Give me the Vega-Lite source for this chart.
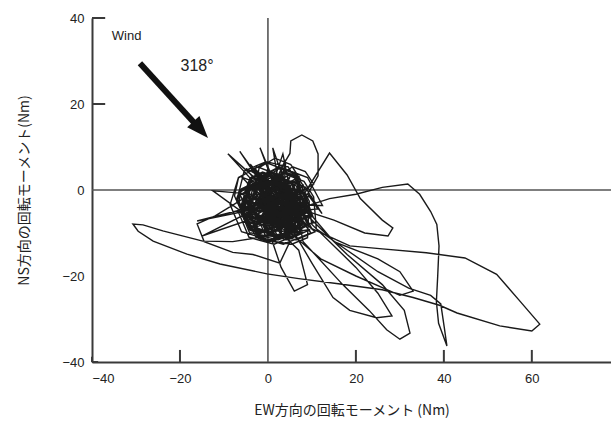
{
"$schema":"https://vega.github.io/schema/vega-lite/v6.json",
"width":519,"height":344,
"autosize":{"type":"none"},
"padding":{"left":92,"top":18,"right":0,"bottom":59},
"background":"white",
"config":{"view":{"stroke":null},"font":"Liberation Sans",
 "axis":{"grid":false,"ticks":false,"domainColor":"#3a3a3a","domainWidth":2,"labelFont":"Liberation Sans","labelFontSize":13,"labelColor":"#222","titleFont":"Noto Sans CJK JP","titleFontSize":14,"titleFontWeight":"normal","titleColor":"#222"}},
"datasets":{
"traj":[
{"x":2,"y":-3},{"x":-4,"y":2},{"x":6,"y":-8},{"x":8,"y":1},{"x":-3,"y":-7},{"x":0,"y":5},{"x":5,"y":-10},{"x":-5,"y":-4},{"x":7,"y":3},{"x":1,"y":-9},{"x":-2,"y":4},{"x":9,"y":-5},{"x":-6,"y":-1},{"x":4,"y":6},{"x":3,"y":-11},
{"x":8,"y":-3},{"x":6.5,"y":1.8},{"x":2.4,"y":2.6},{"x":-2.6,"y":1.5},{"x":-3.6,"y":-3.4},{"x":-2,"y":-7.9},{"x":2.5,"y":-8.6},{"x":6.9,"y":-6.6},
{"x":5.4,"y":-1.6},{"x":3.2,"y":1.9},{"x":-0.4,"y":3.6},{"x":-3.8,"y":1.2},{"x":-4.6,"y":-2.5},{"x":-3.2,"y":-5.8},{"x":0.6,"y":-6.6},{"x":3.9,"y":-5.2},
{"x":11.3,"y":-4.4},{"x":8.6,"y":0.6},{"x":3.5,"y":2.6},{"x":-1.4,"y":0.4},{"x":-2.6,"y":-5.5},{"x":-0.7,"y":-10.4},{"x":4.6,"y":-11.6},{"x":9.6,"y":-9.2},
{"x":-8,"y":-12},
{"x":-14.8,"y":-11.9},{"x":-23.9,"y":-9.5},{"x":-28.4,"y":-8.1},{"x":-30.7,"y":-7.9},{"x":-29.5,"y":-9.6},{"x":-26.1,"y":-11.9},{"x":-18.4,"y":-14.9},{"x":-10.9,"y":-17.2},{"x":-0.2,"y":-19.5},{"x":7,"y":-20.6},{"x":16,"y":-21.8},{"x":26,"y":-23.2},{"x":33,"y":-25},{"x":39,"y":-26.8},{"x":43,"y":-28.6},{"x":52.7,"y":-31.6},{"x":60,"y":-32.8},{"x":61.8,"y":-31.2},{"x":57,"y":-25.5},{"x":52,"y":-19.6},{"x":44.8,"y":-15.8},{"x":36,"y":-14.6},{"x":26,"y":-13.7},{"x":18.6,"y":-13},{"x":10,"y":-9},
{"x":5.3,"y":-0.6},{"x":3.6,"y":2.3},{"x":0.6,"y":3.4},{"x":-2.2,"y":1.5},{"x":-2.7,"y":-1.4},{"x":-1.5,"y":-4.2},{"x":1.4,"y":-4.7},{"x":4.1,"y":-3.3},
{"x":12.4,"y":-3.6},{"x":9,"y":2.9},{"x":2.6,"y":5.4},{"x":-3.9,"y":2},{"x":-5.6,"y":-4.5},{"x":-2.8,"y":-10.8},{"x":3.5,"y":-12.6},{"x":9.8,"y":-10},
{"x":4.4,"y":-2.6},{"x":2.2,"y":0.9},{"x":-1.4,"y":2.3},{"x":-5,"y":0.1},{"x":-5.6,"y":-3.4},{"x":-4.1,"y":-7},{"x":-0.6,"y":-7.6},{"x":2.8,"y":-6.1},
{"x":8,"y":-4},{"x":14,"y":-2},{"x":20,"y":-1},{"x":26,"y":0.6},{"x":31.8,"y":1.4},{"x":34.5,"y":-1},{"x":37,"y":-5},{"x":38.4,"y":-8},{"x":38.9,"y":-13},{"x":38.6,"y":-20},{"x":38.3,"y":-26},{"x":38.8,"y":-31},{"x":40.7,"y":-36.3},{"x":40.1,"y":-32},{"x":39.3,"y":-26.5},{"x":37,"y":-24.5},{"x":32,"y":-22.8},{"x":25,"y":-19},{"x":18,"y":-14},{"x":11,"y":-9},
{"x":10.4,"y":-1.6},{"x":8.2,"y":2},{"x":4.6,"y":3.4},{"x":1.1,"y":1.2},{"x":0.4,"y":-2.5},{"x":1.8,"y":-6},{"x":5.5,"y":-6.6},{"x":9.1,"y":-5},
{"x":8.4,"y":-5.6},{"x":5.9,"y":-1.4},{"x":1.6,"y":0.4},{"x":-2.6,"y":-2},{"x":-3.6,"y":-6.4},{"x":-1.9,"y":-10.6},{"x":2.4,"y":-11.6},{"x":6.6,"y":-9.9},
{"x":7.4,"y":0.5},{"x":4.6,"y":5.4},{"x":-0.4,"y":6.6},{"x":-5.4,"y":4.4},{"x":-6.6,"y":-0.5},{"x":-4.4,"y":-5.4},{"x":0.5,"y":-6.6},{"x":5.4,"y":-4.5},
{"x":3,"y":5},{"x":5,"y":8.5},{"x":5.2,"y":11.4},{"x":7.7,"y":12.8},{"x":10.2,"y":11.4},{"x":11.4,"y":8.4},{"x":11.4,"y":3.3},{"x":9,"y":-1},
{"x":12.3,"y":-5.5},{"x":9.8,"y":-1.4},{"x":5.5,"y":0.4},{"x":1.4,"y":-2.1},{"x":0.4,"y":-6.4},{"x":2.1,"y":-10.7},{"x":6.5,"y":-11.6},{"x":10.7,"y":-9.7},
{"x":-9.1,"y":8.4},{"x":2,"y":-4},{"x":-6.4,"y":9},{"x":4,"y":-6},{"x":-1.8,"y":9.8},{"x":3,"y":-2},{"x":1.1,"y":9.8},{"x":6,"y":-5},{"x":3.4,"y":8.4},{"x":-2,"y":-8},{"x":-12.5,"y":-0.2},{"x":9,"y":-2},{"x":-16.1,"y":-7.2},{"x":0,"y":-3},{"x":-15,"y":-10.7},{"x":7,"y":-3},{"x":14,"y":8.6},{"x":18,"y":3.5},{"x":21,"y":-2},{"x":26,"y":-7},{"x":28.4,"y":-8.8},{"x":27.3,"y":-10.7},{"x":22,"y":-10},{"x":15,"y":-7},{"x":6,"y":-4},
{"x":4.4,"y":-0.6},{"x":1.9,"y":3.7},{"x":-2.4,"y":5.4},{"x":-6.7,"y":2.8},{"x":-7.6,"y":-1.4},{"x":-5.7,"y":-5.7},{"x":-1.6,"y":-6.6},{"x":2.6,"y":-5.6},
{"x":8.4,"y":0.4},{"x":6.2,"y":3.9},{"x":2.6,"y":5.4},{"x":-0.9,"y":3.2},{"x":-1.6,"y":-0.4},{"x":-0.2,"y":-3.9},{"x":3.4,"y":-4.6},{"x":6.8,"y":-3.2},
{"x":6,"y":-10},{"x":10,"y":-17},{"x":14.8,"y":-25},{"x":18.6,"y":-28},{"x":24.7,"y":-29.7},{"x":28.2,"y":-29.3},{"x":25,"y":-24},{"x":20,"y":-18},{"x":10,"y":-8},
{"x":9.4,"y":-4.6},{"x":6.3,"y":1.1},{"x":0.6,"y":3.4},{"x":-5,"y":0.2},{"x":-6.6,"y":-5.4},{"x":-4.3,"y":-11},{"x":1.4,"y":-12.6},{"x":7.2,"y":-10.1},
{"x":7.4,"y":-2.6},{"x":5.7,"y":-0.5},{"x":3.6,"y":0.4},{"x":1.5,"y":-1.2},{"x":1.4,"y":-3.4},{"x":2.2,"y":-5.5},{"x":4.4,"y":-5.6},{"x":6.6,"y":-4.8},
{"x":8,"y":-12},{"x":17,"y":-22},{"x":23,"y":-28},{"x":27,"y":-32.5},{"x":30,"y":-34.7},{"x":32.3,"y":-33.3},{"x":31,"y":-28},{"x":26,"y":-22},{"x":18,"y":-15},{"x":9,"y":-6},
{"x":4.4,"y":-5.6},{"x":2.2,"y":-2},{"x":-1.4,"y":-0.6},{"x":-4.9,"y":-2.9},{"x":-5.6,"y":-6.4},{"x":-4.2,"y":-9.9},{"x":-0.6,"y":-10.6},{"x":2.9,"y":-9.2},
{"x":7.4,"y":2.4},{"x":5.2,"y":5.9},{"x":1.6,"y":7.4},{"x":-2,"y":5.2},{"x":-2.6,"y":1.6},{"x":-1.1,"y":-2},{"x":2.4,"y":-2.6},{"x":5.9,"y":-1.1},
{"x":15,"y":-12},{"x":25,"y":-16},{"x":30,"y":-19},{"x":33,"y":-23.5},{"x":30,"y":-24.5},{"x":20,"y":-20},{"x":12,"y":-16},{"x":4,"y":-9},
{"x":10.4,"y":-7.6},{"x":8.1,"y":-4},{"x":4.6,"y":-2.6},{"x":1.1,"y":-4.9},{"x":0.4,"y":-8.4},{"x":1.8,"y":-12},{"x":5.4,"y":-12.6},{"x":9,"y":-11.1},
{"x":9.4,"y":-2.6},{"x":6,"y":3.8},{"x":-0.4,"y":6.4},{"x":-6.7,"y":2.9},{"x":-8.6,"y":-3.4},{"x":-6,"y":-9.7},{"x":0.4,"y":-11.6},{"x":6.7,"y":-9},
{"x":1,"y":-12},{"x":3,"y":-18},{"x":6,"y":-23.5},{"x":9,"y":-22},{"x":7,"y":-14},{"x":2,"y":-9},
{"x":5.4,"y":-1.6},{"x":3.7,"y":0.5},{"x":1.6,"y":1.4},{"x":-0.5,"y":-0.3},{"x":-0.6,"y":-2.4},{"x":0.3,"y":-4.5},{"x":2.4,"y":-4.6},{"x":4.6,"y":-3.7},
{"x":7.4,"y":-5.6},{"x":5.4,"y":-2.8},{"x":2.6,"y":-1.6},{"x":-0.2,"y":-3.5},{"x":-0.6,"y":-6.4},{"x":0.5,"y":-9.2},{"x":3.4,"y":-9.6},{"x":6.3,"y":-8.5},
{"x":-4,"y":-1},{"x":-12,"y":-6},{"x":-16.1,"y":-7.9},{"x":-14.5,"y":-12},{"x":-8,"y":-14.5},{"x":-3.4,"y":-15},{"x":2.7,"y":-17},{"x":5,"y":-12},
{"x":1.4,"y":-2.6},{"x":-0.5,"y":0.2},{"x":-3.4,"y":1.4},{"x":-6.3,"y":-0.5},{"x":-6.6,"y":-3.4},{"x":-5.4,"y":-6.3},{"x":-2.6,"y":-6.6},{"x":0.2,"y":-5.4},
{"x":10.4,"y":1.4},{"x":8.5,"y":4.3},{"x":5.6,"y":5.4},{"x":2.8,"y":3.4},{"x":2.4,"y":0.6},{"x":3.5,"y":-2.2},{"x":6.4,"y":-2.6},{"x":9.2,"y":-1.5},
{"x":5.4,"y":-7.6},{"x":3.4,"y":-4.7},{"x":0.6,"y":-3.6},{"x":-2.3,"y":-5.6},{"x":-2.6,"y":-8.4},{"x":-1.4,"y":-11.3},{"x":1.4,"y":-11.6},{"x":4.3,"y":-10.4},
{"x":9.4,"y":-3.6},{"x":6.6,"y":1.4},{"x":1.6,"y":3.4},{"x":-3.4,"y":0.6},{"x":-4.6,"y":-4.4},{"x":-2.6,"y":-9.4},{"x":2.4,"y":-10.6},{"x":7.4,"y":-8.6},
{"x":-4,"y":6},{"x":3,"y":-5},{"x":0,"y":-1},{"x":6,"y":-9},{"x":-5,"y":5},{"x":4,"y":0},{"x":8,"y":-10},{"x":-5,"y":2},{"x":2,"y":-7},{"x":7,"y":0},{"x":-2,"y":-5},{"x":1,"y":3},{"x":5,"y":-6},{"x":-4,"y":-9},{"x":6,"y":2},{"x":0,"y":0},{"x":3,"y":-10},{"x":-3,"y":5},{"x":8,"y":-7},{"x":-1,"y":-4},{"x":4,"y":7},{"x":2,"y":-5},{"x":-6,"y":3},{"x":7,"y":-2},{"x":1,"y":-8},{"x":-2,"y":-3},{"x":5,"y":3},{"x":0,"y":-7},{"x":3,"y":1}
],
"core":[
{"x":1,"y":-2},{"x":0.2,"y":0.3},{"x":-2,"y":1.1},{"x":-4.3,"y":0},{"x":-5,"y":-2.2},{"x":-4.1,"y":-4.2},{"x":-1.8,"y":-5},{"x":0.3,"y":-4},
{"x":4,"y":-6.3},{"x":2.8,"y":-3},{"x":-0.3,"y":-2},{"x":-3,"y":-3.2},{"x":-4,"y":-6},{"x":-2.7,"y":-8.9},{"x":0.4,"y":-10},{"x":3,"y":-8.7},
{"x":6.5,"y":-0.8},{"x":5.4,"y":1.6},{"x":2.8,"y":2.5},{"x":0.5,"y":1.5},{"x":-0.5,"y":-1.2},{"x":0.6,"y":-3.6},{"x":3.3,"y":-4.5},{"x":5.7,"y":-3.4},
{"x":9,"y":-5.2},{"x":7.9,"y":-2},{"x":4.8,"y":-1},{"x":2.1,"y":-2.3},{"x":1,"y":-5.2},{"x":2.3,"y":-8},{"x":5.3,"y":-9},{"x":8,"y":-7.7},
{"x":6,"y":-3},{"x":4.4,"y":0.7},{"x":0.8,"y":2},{"x":-2.6,"y":0.5},{"x":-4,"y":-3.2},{"x":-2.4,"y":-6.6},{"x":1.2,"y":-8},{"x":4.6,"y":-6.4},
{"x":0,"y":-5},{"x":-0.8,"y":-2.8},{"x":-3.2,"y":-2},{"x":-5.3,"y":-3},{"x":-6,"y":-5.3},{"x":-5,"y":-7.2},{"x":-2.7,"y":-8},{"x":-0.7,"y":-7.1},
{"x":5,"y":-8},{"x":4.2,"y":-5.7},{"x":1.8,"y":-5},{"x":-0.2,"y":-6},{"x":-1,"y":-8.2},{"x":0,"y":-10.2},{"x":2.2,"y":-11},{"x":4.3,"y":-10},
{"x":7,"y":1},{"x":6.1,"y":3.3},{"x":3.8,"y":4},{"x":1.7,"y":3},{"x":1,"y":0.8},{"x":2,"y":-1.2},{"x":4.2,"y":-2},{"x":6.2,"y":-1.1},
{"x":3,"y":0},{"x":1.9,"y":2.9},{"x":-1.2,"y":4},{"x":-3.9,"y":2.7},{"x":-5,"y":-0.2},{"x":-3.7,"y":-2.9},{"x":-0.8,"y":-4},{"x":1.8,"y":-2.8},
{"x":9,"y":-3},{"x":8.2,"y":-0.8},{"x":5.8,"y":0},{"x":3.8,"y":-1},{"x":3,"y":-3.2},{"x":4,"y":-5.2},{"x":6.2,"y":-6},{"x":8.3,"y":-5},
{"x":6,"y":-4},{"x":4.1,"y":0.3},{"x":-0.2,"y":2},{"x":-4.3,"y":0.1},{"x":-6,"y":-4.2},{"x":-4,"y":-8.4},{"x":0.2,"y":-10},{"x":4.4,"y":-8.1},
{"x":4.5,"y":-5},{"x":3.8,"y":-3.2},{"x":1.8,"y":-2.5},{"x":0.2,"y":-3.3},{"x":-0.5,"y":-5.2},{"x":0.3,"y":-6.9},{"x":2.2,"y":-7.5},{"x":3.9,"y":-6.7},
{"x":-1,"y":-2},{"x":-1.9,"y":0.2},{"x":-4.2,"y":1},{"x":-6.2,"y":0},{"x":-7,"y":-2.2},{"x":-6,"y":-4.2},{"x":-3.8,"y":-5},{"x":-1.8,"y":-4},
{"x":7,"y":-7},{"x":5.9,"y":-4.1},{"x":2.8,"y":-3},{"x":0.1,"y":-4.3},{"x":-1,"y":-7.2},{"x":0.3,"y":-9.9},{"x":3.2,"y":-11},{"x":5.9,"y":-9.7},
{"x":4,"y":1},{"x":3.2,"y":3.2},{"x":0.8,"y":4},{"x":-1.2,"y":3},{"x":-2,"y":0.8},{"x":-1,"y":-1.2},{"x":1.2,"y":-2},{"x":3.2,"y":-1},
{"x":8,"y":-8},{"x":7.2,"y":-5.8},{"x":4.8,"y":-5},{"x":2.8,"y":-6},{"x":2,"y":-8.2},{"x":3,"y":-10.2},{"x":5.2,"y":-11},{"x":7.2,"y":-10},
{"x":1,"y":-7},{"x":0.2,"y":-4.8},{"x":-2.2,"y":-4},{"x":-4.2,"y":-5},{"x":-5,"y":-7.2},{"x":-4,"y":-9.2},{"x":-1.8,"y":-10},{"x":0.2,"y":-9},
{"x":10,"y":-6},{"x":9.2,"y":-3.8},{"x":6.8,"y":-3},{"x":4.8,"y":-4},{"x":4,"y":-6.2},{"x":5,"y":-8.2},{"x":7.2,"y":-9},{"x":9.2,"y":-8},
{"x":6,"y":-2},{"x":4.9,"y":0.9},{"x":1.8,"y":2},{"x":-0.9,"y":0.8},{"x":-2,"y":-2.2},{"x":-0.8,"y":-4.9},{"x":2.2,"y":-6},{"x":4.9,"y":-4.8},
{"x":3,"y":-9},{"x":2.2,"y":-6.8},{"x":-0.2,"y":-6},{"x":-2.2,"y":-7},{"x":-3,"y":-9.2},{"x":-2,"y":-11.2},{"x":0.2,"y":-12},{"x":2.2,"y":-11}
],
"vzero":[{"x":0,"y":-40,"y2":40}],
"hzero":[{"x":-40,"x2":78,"y":0}],
"xticks":[{"x":-40,"y":-40,"y2":-38.8},{"x":-20,"y":-40,"y2":-37.2},{"x":20,"y":-40,"y2":-37.2},{"x":40,"y":-40,"y2":-37.2},{"x":60,"y":-40,"y2":-37.2}],
"yticks":[{"x":-40,"x2":-38.6,"y":-40},{"x":-40,"x2":-37,"y":20},{"x":-40,"x2":-37,"y":40}],
"shaft":[{"x":-29.1,"y":29.5},{"x":-16.1,"y":14.9}],
"head":[{"x":-15.3,"y":14.0}],
"wind":[{"x":-35.5,"y":35.8,"label":"Wind"}],
"deg":[{"x":-16.1,"y":28.8,"label":"318°"}]
},
"encoding":{
 "x":{"field":"x","type":"quantitative","scale":{"domain":[-40,78],"nice":false,"zero":false},
  "axis":{"title":"EW方向の回転モーメント (Nm)","values":[-40,-20,0,20,40,60],"labelPadding":10,"titlePadding":18}},
 "y":{"field":"y","type":"quantitative","scale":{"domain":[-40,40],"nice":false,"zero":false},
  "axis":{"title":"NS方向の回転モーメント(Nm)","values":[-40,-20,0,20,40],"labelPadding":8,"titlePadding":30}}
},
"layer":[
 {"data":{"name":"vzero"},"mark":{"type":"rule","color":"#555","strokeWidth":1.6},"encoding":{"y2":{"field":"y2"}}},
 {"data":{"name":"hzero"},"mark":{"type":"rule","color":"#555","strokeWidth":1.6},"encoding":{"x2":{"field":"x2"}}},
 {"data":{"name":"xticks"},"mark":{"type":"rule","color":"#3a3a3a","strokeWidth":2},"encoding":{"y2":{"field":"y2"}}},
 {"data":{"name":"yticks"},"mark":{"type":"rule","color":"#3a3a3a","strokeWidth":2},"encoding":{"x2":{"field":"x2"}}},
 {"data":{"name":"traj"},"mark":{"type":"line","color":"#1a1a1a","strokeWidth":1.4,"strokeJoin":"miter"},"encoding":{"order":{"value":null}}},
 {"data":{"name":"core"},"mark":{"type":"line","color":"#1a1a1a","strokeWidth":2.8,"strokeJoin":"miter"},"encoding":{"order":{"value":null}}},
 {"data":{"name":"shaft"},"mark":{"type":"line","color":"#111","strokeWidth":6,"strokeCap":"butt"},"encoding":{"order":{"value":null}}},
 {"data":{"name":"head"},"mark":{"type":"point","shape":"M0,-1L0.75,1L-0.75,1Z","size":484,"angle":138,"filled":true,"color":"#111","opacity":1},"encoding":{}},
 {"data":{"name":"wind"},"mark":{"type":"text","align":"left","baseline":"middle","fontSize":13,"color":"#222"},"encoding":{"text":{"field":"label"}}},
 {"data":{"name":"deg"},"mark":{"type":"text","align":"center","baseline":"middle","fontSize":16,"color":"#222"},"encoding":{"text":{"field":"label"}}}
]
}
